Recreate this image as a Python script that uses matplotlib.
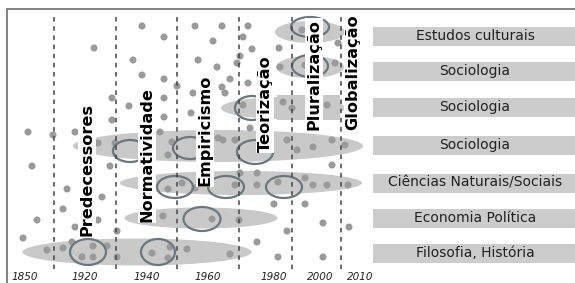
import matplotlib as mpl
mpl.use('Agg')
import matplotlib.pyplot as plt
from matplotlib.patches import Ellipse

# canvas runs in pixel units of the original picture (x right, y down)
years = ['1850', '1920', '1940', '1960', '1980', '2000', '2010']
year_x = [25, 85, 147, 208, 274, 320, 360]

period_x = [54, 116, 177, 239, 292, 341]
periods = ['Predecessores', 'Normatividade', 'Empiricismo', 'Teorização', 'Pluralização', 'Globalização']
period_lx = [87, 147, 205, 265, 314, 353]
period_ly = [236, 222, 186, 152, 130, 130]

fields = ['Estudos culturais', 'Sociologia', 'Sociologia', 'Sociologia',
          'Ciências Naturais/Sociais', 'Economia Política', 'Filosofia, História']
field_y = [36, 71, 107.5, 145.5, 183, 218, 253]

# field bands: centre x, centre y, width, height
band_cx = [310, 310, 283, 218, 241, 201, 137]
band_cy = [32, 67, 108, 146, 183, 218, 252]
band_w = [70, 68, 124, 290, 242, 153, 229]
band_h = [22, 22, 22, 32, 24, 21, 27]

# key works (rings)
ring_x = [310, 310, 252, 130, 190, 255, 175, 226, 284, 202, 88, 158]
ring_y = [27, 66, 108, 151, 148, 152, 187, 187, 187, 219, 252, 252]
ring_w = [38, 36, 34, 34, 34, 36, 36, 36, 36, 37, 36, 34]
ring_h = [20, 22, 24, 22, 22, 24, 22, 22, 22, 24, 26, 26]

dot_x = [94, 28, 53, 75, 112, 112, 129, 133, 142, 142, 164, 164, 164, 164, 160,
         177, 193, 191, 195, 198, 222, 248, 213, 243, 252, 279, 240, 217, 230,
         248, 222, 225, 260, 302, 338, 280, 305, 335, 250, 237,
         243, 283, 292, 327,
         115, 98, 172, 168, 210, 218, 223, 235, 287, 313, 332, 345, 297, 332, 110,
         32, 67, 102, 63, 98, 37, 75, 117, 23, 274, 305, 323, 349, 287, 257, 278, 323,
         168, 182, 195, 235, 240, 257, 257, 278, 305, 313, 327, 348,
         143, 163, 212, 239,
         47, 63, 72, 82, 93, 93, 107, 117, 152, 170, 168, 187, 230]
dot_y = [48, 132, 135, 132, 98, 120, 106, 60, 26, 75, 37, 79, 98, 117, 132,
         86, 93, 113, 26, 60, 26, 26, 41, 37, 49, 48, 56, 67, 79,
         83, 87, 93, 70, 30, 43, 67, 65, 63, 128, 63,
         105, 102, 108, 105,
         143, 143, 142, 155, 147, 138, 140, 140, 140, 147, 140, 145, 150, 165, 166,
         166, 189, 197, 209, 220, 220, 227, 231, 238, 204, 204, 223, 227, 231, 242, 257, 257,
         189, 183, 188, 185, 173, 173, 185, 182, 178, 185, 185, 185,
         216, 216, 219, 220,
         250, 248, 242, 257, 257, 246, 246, 257, 253, 247, 258, 249, 254]

fig = plt.figure(figsize=(5.75, 2.83), dpi=100)
ax = fig.add_axes([0, 0, 1, 1])
ax.set_xlim(0, 575)
ax.set_ylim(283, 0)
ax.axis('off')

# frame (top and left only)
ax.plot([7, 7, 575], [283, 9, 9], color='#777777', lw=1.3)

# row label boxes on the right
ax.barh(field_y, 202, left=373, height=19, color='#cccccc')
for y, t in zip(field_y, fields):
    ax.text(475, y, t, ha='center', va='center', fontsize=10, color='#222222')

# bands
for cx, cy, w, h in zip(band_cx, band_cy, band_w, band_h):
    ax.add_patch(Ellipse((cx, cy), w, h, facecolor='#c9c9c9', edgecolor='none', zorder=1))
ax.fill_between([277, 340], 95, 120, color='#c9c9c9', lw=0, zorder=1)

ax.scatter(dot_x, dot_y, s=26, color='#9a9a9a', edgecolor='none', zorder=2)

for x, y, w, h in zip(ring_x, ring_y, ring_w, ring_h):
    ax.add_patch(Ellipse((x, y), w, h, facecolor='none', edgecolor='#6b777c', lw=1.6, zorder=3))

# period boundaries
ax.vlines(period_x, 17, 270, colors='#444444', linestyles=(0, (3, 3)), lw=1.1, zorder=4)

for x, y, t in zip(period_lx, period_ly, periods):
    ax.text(x, y, t, rotation=90, ha='center', va='bottom', fontsize=11.6,
            fontweight='bold', color='black', zorder=5,
            bbox=dict(facecolor='white', edgecolor='none', pad=1.0))

for x, t in zip(year_x, years):
    ax.text(x, 277, t, ha='center', va='center', fontsize=7.5, style='italic', color='#222222')

plt.savefig('out.png', dpi=100)
